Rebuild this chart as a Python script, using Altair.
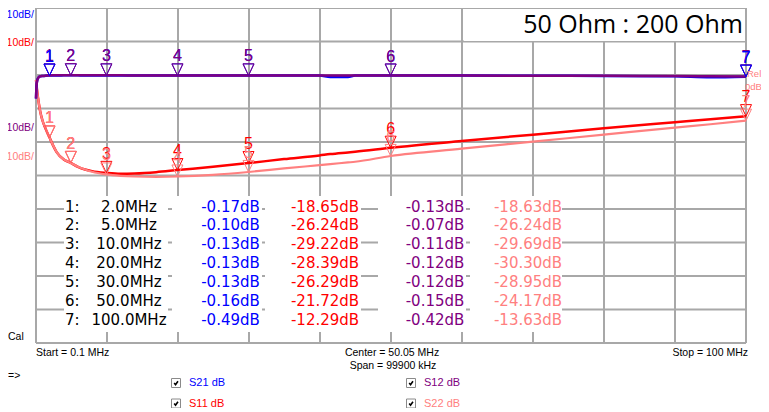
import altair as alt
import pandas as pd

# ---------------- data ----------------
freq_mhz = [0.1, 0.15, 0.2, 0.3, 0.4, 0.5, 0.7, 1.0, 1.5, 2.0,
            2.5, 3.0, 4.0, 5.0, 6.0, 7.0, 8.0, 10.0, 12.0, 14.0,
            17.0, 20.0, 25.0, 30.0, 35.0, 40.0, 41.5, 44.0, 45.0, 50.0,
            60.0, 70.0, 80.0, 90.0, 95.0, 100.0]
s21_db = [-7.0, -4.0, -2.6, -1.4, -0.9, -0.6, -0.4, -0.3, -0.2, -0.17,
          -0.14, -0.12, -0.11, -0.10, -0.11, -0.12, -0.12, -0.13, -0.13, -0.13,
          -0.13, -0.13, -0.13, -0.13, -0.14, -0.14, -0.6, -0.6, -0.15, -0.16,
          -0.18, -0.22, -0.28, -0.40, -0.65, -0.49]
s12_db = [-7.0, -4.0, -2.6, -1.4, -0.9, -0.6, -0.4, -0.28, -0.18, -0.13,
          -0.10, -0.09, -0.08, -0.07, -0.08, -0.09, -0.10, -0.11, -0.11, -0.12,
          -0.12, -0.12, -0.12, -0.12, -0.13, -0.14, -0.14, -0.14, -0.14, -0.15,
          -0.17, -0.20, -0.25, -0.31, -0.36, -0.42]
s11_db = [-1.5, -2.5, -3.5, -5.5, -7.0, -8.5, -11.0, -13.5, -16.3, -18.65,
          -21.0, -23.0, -25.2, -26.24, -27.4, -28.2, -28.7, -29.22, -29.5, -29.4,
          -29.0, -28.39, -27.4, -26.29, -25.1, -24.0, -23.6, -23.1, -22.9, -21.72,
          -19.7, -17.8, -15.9, -14.1, -13.2, -12.29]
s22_db = [-1.5, -2.5, -3.5, -5.5, -7.0, -8.5, -11.0, -13.5, -16.3, -18.63,
          -21.0, -23.0, -25.2, -26.24, -27.4, -28.2, -28.9, -29.69, -30.1, -30.3,
          -30.4, -30.30, -29.8, -28.95, -27.9, -26.9, -26.6, -26.1, -25.9, -24.17,
          -22.0, -19.9, -17.8, -15.7, -14.7, -13.63]

marker_ids = [1, 2, 3, 4, 5, 6, 7]
marker_freq = [2.0, 5.0, 10.0, 20.0, 30.0, 50.0, 100.0]
m_s21 = [-0.17, -0.10, -0.13, -0.13, -0.13, -0.16, -0.49]
m_s11 = [-18.65, -26.24, -29.22, -28.39, -26.29, -21.72, -12.29]
m_s12 = [-0.13, -0.07, -0.11, -0.12, -0.12, -0.15, -0.42]
m_s22 = [-18.63, -26.24, -29.69, -30.30, -28.95, -24.17, -13.63]

# graticule: 10 divisions of span / 10 dB per division
x_grid_mhz = [0.1, 10.09, 20.08, 30.07, 40.06, 50.05, 60.04, 70.03, 80.02, 90.01, 100.0]
y_grid_db = [-80, -70, -60, -50, -40, -30, -20, -10, 0, 10, 20]

title_text = "50 Ohm : 200 Ohm"
scale_label = "10dB/"
start_text = "Start = 0.1 MHz"
center_text = "Center = 50.05 MHz"
span_text = "Span = 99900 kHz"
stop_text = "Stop = 100 MHz"
legend_names = ["S21  dB", "S12  dB", "S11  dB", "S22  dB"]

# ---------------- styles ----------------
BLUE = "#0000ff"
RED = "#ff0000"
PURPLE = "#800080"
PINK = "#ff8080"
GRID = "#a8a8a8"

trace_df = pd.DataFrame({"f": freq_mhz, "s21": s21_db, "s12": s12_db,
                         "s11": s11_db, "s22": s22_db})
mk_df = pd.DataFrame({"n": marker_ids, "f": marker_freq, "s21": m_s21,
                      "s11": m_s11, "s12": m_s12, "s22": m_s22})
one = pd.DataFrame({"k": [0]})

xs = alt.Scale(domain=[0.1, 100], nice=False, zero=False)
ys = alt.Scale(domain=[-80, 20], nice=False, zero=False)


def X(field="f"):
    return alt.X(f"{field}:Q", scale=xs, axis=None)


def Y(field):
    return alt.Y(f"{field}:Q", scale=ys, axis=None)


def box(x0, x1, y0, y1):
    return alt.Chart(one).mark_rect(color="white").encode(
        x=alt.value(x0), x2=alt.value(x1), y=alt.value(y0), y2=alt.value(y1))


def label(txt, x, y, color="black", size=11, align="left", font="Liberation Sans",
          baseline="middle"):
    return alt.Chart(one).mark_text(text=txt, align=align, baseline=baseline, fontSize=size,
                                    font=font, color=color).encode(x=alt.value(x), y=alt.value(y))


def trace(field, color, width):
    return alt.Chart(trace_df).mark_line(color=color, strokeWidth=width,
                                         interpolate="monotone").encode(x=X(), y=Y(field))


TRI = "M-1,-2.1L1,-2.1L0,0Z"


def markers(field, color, only=None):
    base = alt.Chart(mk_df)
    if only is not None:
        base = base.transform_filter(alt.FieldOneOfPredicate(field="n", oneOf=only))
    tri = base.mark_point(shape=TRI, size=121, filled=False, strokeWidth=1, color=color,
                          opacity=1).encode(x=X(), y=Y(field))
    num = base.mark_text(dy=-14, baseline="alphabetic", fontSize=16, font="Liberation Sans",
                         color=color).encode(x=X(), y=Y(field), text="n:N")
    return [tri, num]


tab = pd.DataFrame({
    "row": [i - 1 for i in marker_ids],
    "c0": [f"{i}:" for i in marker_ids],
    "c1": [f"{f:.1f}MHz" for f in marker_freq],
    "c2": [f"{v:.2f}dB" for v in m_s21],
    "c3": [f"{v:.2f}dB" for v in m_s11],
    "c4": [f"{v:.2f}dB" for v in m_s12],
    "c5": [f"{v:.2f}dB" for v in m_s22],
})


def tcol(field, xpx, align, color):
    return alt.Chart(tab).transform_calculate(py="198.5 + 18.9 * datum.row").mark_text(
        align=align, baseline="middle", font="DejaVu Sans", fontSize=15, color=color
    ).encode(x=alt.value(xpx), y=alt.Y("py:Q", scale=None, axis=None), text=f"{field}:N")


def checkbox(x, y):
    b = alt.Chart(one).mark_point(shape="square", size=81, filled=True, fill="white",
                                  stroke="#8a8a8a", strokeWidth=1, opacity=1).encode(
        x=alt.value(x), y=alt.value(y))
    c = alt.Chart(one).mark_point(shape="M-0.6,0L-0.15,0.55L0.65,-0.6", size=36, filled=False,
                                  color="black", strokeWidth=1.6, opacity=1).encode(
        x=alt.value(x), y=alt.value(y))
    return [b, c]


layers = []
# graticule
layers.append(alt.Chart(pd.DataFrame({"g": x_grid_mhz})).mark_rule(
    color=GRID, strokeWidth=2).encode(x=X("g")))
layers.append(alt.Chart(pd.DataFrame({"g": y_grid_db})).mark_rule(
    color=GRID, strokeWidth=2).encode(y=Y("g")))

# white backgrounds that hide the grid (table cells and title box)
for x0, x1 in [(28, 132), (136, 226), (229, 325), (342, 430), (434, 526)]:
    layers.append(box(x0, x1, 188, 324))
layers.append(box(428, 709, 1, 33))

# traces
layers.append(trace("s11", RED, 2.5))
layers.append(trace("s22", PINK, 2.2))
layers.append(trace("s21", BLUE, 2.5))
layers.append(trace("s12", PURPLE, 2.5))

# markers
layers += markers("s11", RED)
layers += markers("s22", PINK)
layers += markers("s21", BLUE)
layers += markers("s12", PURPLE)
layers += markers("s21", BLUE, only=[1, 7])

# marker table
layers.append(tcol("c0", 29, "left", "black"))
layers.append(tcol("c1", 93, "center", "black"))
layers.append(tcol("c2", 194.5, "center", BLUE))
layers.append(tcol("c3", 289, "center", RED))
layers.append(tcol("c4", 399, "center", PURPLE))
layers.append(tcol("c5", 492, "center", PINK))

# title
layers.append(label(title_text, 707, 25, size=25, align="right", font="Open Sans",
                    baseline="alphabetic"))

# scale labels on the left
for yy, col in [(7, BLUE), (35, RED), (120, PURPLE), (149, PINK)]:
    layers.append(label(scale_label, -2, yy, color=col, size=10.5, align="right"))

# reference indicator
layers.append(label("Rel", 711, 66, color=PINK, size=9.5))
layers.append(label("0dB", 709, 79, color=PINK, size=9.5))

# bottom annotations
layers.append(label("Cal", -28, 329, size=10.5))
layers.append(label(start_text, 0, 345, size=10.5))
layers.append(label(center_text, 356, 345, size=10.5, align="center"))
layers.append(label(span_text, 357, 358, size=10.5, align="center"))
layers.append(label(stop_text, 712, 345, size=10.5, align="right"))
layers.append(label("=>", -28, 368, size=10.5))

# legend checkboxes
for (cx, cy), name, col in zip([(140, 375), (375, 375), (140, 395.5), (375, 395.5)],
                               legend_names, [BLUE, PURPLE, RED, PINK]):
    layers += checkbox(cx, cy)
    layers.append(label(name, cx + 13, cy, color=col, size=11))

chart = alt.layer(*layers).properties(
    width=710, height=335,
    padding={"left": 28, "top": 0, "right": 15, "bottom": 65},
    autosize=alt.AutoSizeParams(type="none"),
    background="white",
).configure_view(stroke=None)

chart.save("out.html", embed_options={"renderer": "svg", "actions": False})
